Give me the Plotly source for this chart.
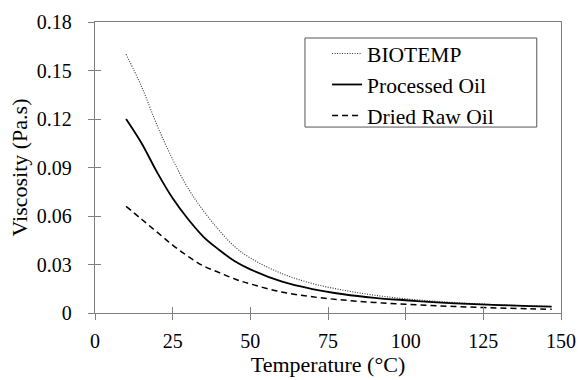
import plotly.graph_objects as go

temps = [10, 15, 20, 25, 30, 35, 40, 45, 50, 60, 70, 80, 90, 100, 110, 120, 130, 140, 147]
biotemp = [0.160, 0.140, 0.116, 0.095, 0.077, 0.063, 0.051, 0.041, 0.034, 0.0245, 0.0182, 0.0141,
           0.0110, 0.0088, 0.0072, 0.0060, 0.0051, 0.0044, 0.0040]
processed = [0.120, 0.105, 0.087, 0.071, 0.058, 0.047, 0.039, 0.032, 0.027, 0.0195, 0.0148, 0.0116,
             0.0094, 0.0079, 0.0066, 0.0056, 0.0049, 0.0043, 0.0039]
dried = [0.066, 0.058, 0.050, 0.042, 0.035, 0.029, 0.025, 0.021, 0.018, 0.013, 0.0100, 0.0080,
         0.0065, 0.0054, 0.0045, 0.0037, 0.0031, 0.0026, 0.0023]

x_ticks = [0, 25, 50, 75, 100, 125, 150]
y_ticks = [0, 0.03, 0.06, 0.09, 0.12, 0.15, 0.18]
y_tick_labels = ["0", "0.03", "0.06", "0.09", "0.12", "0.15", "0.18"]

FONT = "Liberation Serif, Times New Roman, serif"
fig = go.Figure()
fig.add_trace(go.Scatter(x=temps, y=biotemp, name="BIOTEMP", mode="lines",
                         line=dict(color="#333", width=1.1, dash="1px,1.5px", shape="spline")))
fig.add_trace(go.Scatter(x=temps, y=processed, name="Processed Oil", mode="lines",
                         line=dict(color="black", width=1.8, shape="spline")))
fig.add_trace(go.Scatter(x=temps, y=dried, name="Dried Raw Oil", mode="lines",
                         line=dict(color="black", width=1.5, dash="6px,4px", shape="spline")))

axcol = "#7f7f7f"
fig.update_layout(
    width=580, height=380,
    margin=dict(l=95, r=19, t=22, b=67, autoexpand=False),
    paper_bgcolor="white", plot_bgcolor="white",
    font=dict(family=FONT, size=20, color="black"),
    showlegend=True,
    legend=dict(x=0.498, y=0.962, xanchor="left", yanchor="top",
                borderwidth=0, bgcolor="rgba(0,0,0,0)", itemwidth=30,
                font=dict(family=FONT, size=21.5), tracegroupgap=0),
    shapes=[dict(type="rect", xref="paper", yref="paper", x0=0.4506, x1=0.948,
                 y0=0.639, y1=0.945, line=dict(color="#555", width=1), fillcolor="white",
                 layer="below")],
    xaxis=dict(range=[0, 150], tickvals=x_ticks, ticks="outside", ticklen=6, tickcolor=axcol,
               showline=True, linecolor=axcol, linewidth=1.3, mirror=True, showgrid=False,
               zeroline=False, automargin=False, ticklabelstandoff=4,
               title=dict(text="Temperature (°C)", font=dict(size=22), standoff=4)),
    yaxis=dict(range=[0, 0.18], tickvals=y_ticks, ticktext=y_tick_labels, ticks="outside",
               ticklen=6, tickcolor=axcol, showline=True, linecolor=axcol, linewidth=1.3,
               mirror=True, showgrid=False, zeroline=False, automargin=False,
               ticklabelstandoff=12,
               title=dict(text="Viscosity (Pa.s)", font=dict(size=22), standoff=3)),
    xaxis2=dict(range=[0, 150], tickvals=x_ticks, ticks="inside", ticklen=6, tickcolor=axcol,
                showticklabels=False, overlaying="x", showline=False, showgrid=False,
                zeroline=False, side="bottom", automargin=False),
    yaxis2=dict(range=[0, 0.18], tickvals=y_ticks, ticks="inside", ticklen=6, tickcolor=axcol,
                showticklabels=False, overlaying="y", showline=False, showgrid=False,
                zeroline=False, side="left", automargin=False),
)
fig.add_trace(go.Scatter(x=[None], y=[None], xaxis="x2", yaxis="y2", showlegend=False,
                         hoverinfo="skip"))
fig.write_html("out.html", config={"displayModeBar": False},
               post_script="document.body.style.margin='0';document.body.style.overflow='hidden';")
